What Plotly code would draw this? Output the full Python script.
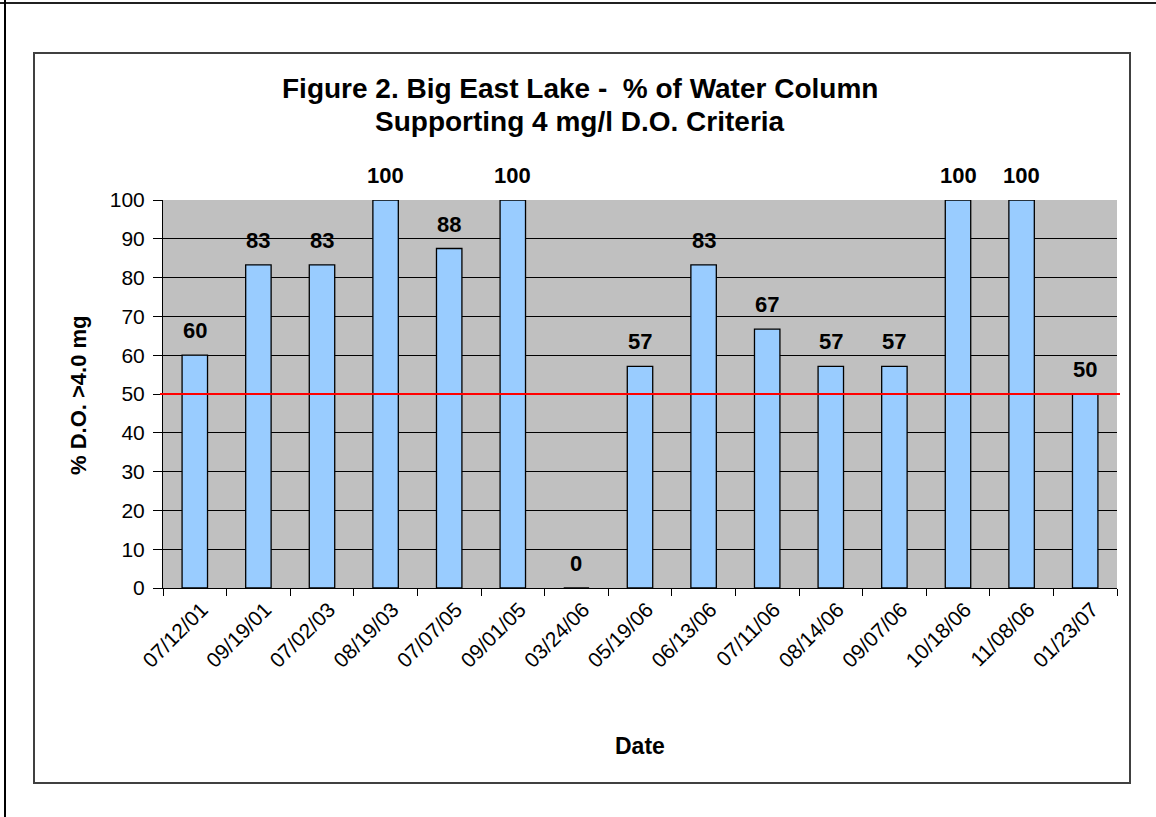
import plotly.graph_objects as go

# Sampling dates and percent of the water column meeting the 4 mg/l D.O. criterion
dates = ["07/12/01", "09/19/01", "07/02/03", "08/19/03", "07/07/05", "09/01/05",
         "03/24/06", "05/19/06", "06/13/06", "07/11/06", "08/14/06", "09/07/06",
         "10/18/06", "11/08/06", "01/23/07"]
pct_supporting = [60, 83.3, 83.3, 100, 87.5, 100, 0, 57.1, 83.3, 66.7, 57.1, 57.1, 100, 100, 50]
label_values = [60, 83, 83, 100, 88, 100, 0, 57, 83, 67, 57, 57, 100, 100, 50]
criterion = 50
y_ticks = list(range(0, 101, 10))
title_lines = ["Figure 2. Big East Lake -  % of Water Column", "Supporting 4 mg/l D.O. Criteria"]

W, H = 1156, 817
L, R, T, B = 163, 1117, 200, 588  # plot area in pixels


def px_x(p):
    return (p - L) / (R - L)


def px_y(p):
    return (B - p) / (B - T)


FONT = "Liberation Sans, Arial, sans-serif"

fig = go.Figure()
fig.add_trace(go.Bar(
    x=dates, y=pct_supporting,
    marker=dict(color="#99CCFF", line=dict(color="black", width=1.3)),
    showlegend=False, hoverinfo="x+y",
))

annotations = []
for d, v, lbl in zip(dates, pct_supporting, label_values):
    annotations.append(dict(
        x=d, y=v, xref="x", yref="y", text=f"<b>{lbl}</b>", showarrow=False,
        yanchor="bottom", yshift=10, font=dict(family=FONT, size=22, color="black"),
    ))

for line, ypx in zip(title_lines, [89, 121]):
    annotations.append(dict(
        xref="paper", yref="paper", x=px_x(580), y=px_y(ypx), text=f"<b>{line}</b>",
        showarrow=False, xanchor="center", yanchor="middle",
        font=dict(family=FONT, size=28, color="black")))

annotations += [
    dict(xref="paper", yref="paper", x=px_x(78), y=px_y(395),
         text="<b>% D.O. >4.0 mg</b>", textangle=-90, showarrow=False,
         xanchor="center", yanchor="middle",
         font=dict(family=FONT, size=22, color="black")),
    dict(xref="paper", yref="paper", x=px_x(640), y=px_y(746),
         text="<b>Date</b>", showarrow=False, xanchor="center", yanchor="middle",
         font=dict(family=FONT, size=23, color="black")),
]

shapes = [
    # criterion line
    dict(type="line", xref="paper", yref="y", x0=px_x(160), x1=px_x(1120),
         y0=criterion, y1=criterion, line=dict(color="#FF0000", width=2)),
    # chart area frame
    dict(type="rect", xref="paper", yref="paper", x0=px_x(34), x1=px_x(1130),
         y0=px_y(783), y1=px_y(53), line=dict(color="#404040", width=2),
         fillcolor="rgba(0,0,0,0)", layer="below"),
    # outer page edges
    dict(type="line", xref="paper", yref="paper", x0=px_x(0), x1=px_x(1156),
         y0=px_y(3), y1=px_y(3), line=dict(color="#202020", width=2)),
    dict(type="line", xref="paper", yref="paper", x0=px_x(5), x1=px_x(5),
         y0=px_y(0), y1=px_y(817), line=dict(color="black", width=2)),
]

fig.update_layout(
    width=W, height=H,
    margin=dict(l=L, r=W - R, t=T, b=H - B, pad=0),
    paper_bgcolor="white", plot_bgcolor="#C0C0C0",
    bargap=0.6,
    font=dict(family=FONT, color="black"),
    annotations=annotations, shapes=shapes,
    xaxis=dict(type="category", tickangle=-45, tickfont=dict(size=21),
               ticks="outside", tickson="boundaries", ticklen=7, tickcolor="black",
               ticklabelshift=7,
               showline=True, linecolor="black", linewidth=1, showgrid=False),
    yaxis=dict(range=[0, 100], tickvals=y_ticks, tickfont=dict(size=21),
               ticks="outside", ticklen=9, tickcolor="black", ticklabelstandoff=4,
               showline=True, linecolor="black", linewidth=1,
               showgrid=True, gridcolor="black", gridwidth=1, zeroline=False),
)

fig.write_html("out.html")
